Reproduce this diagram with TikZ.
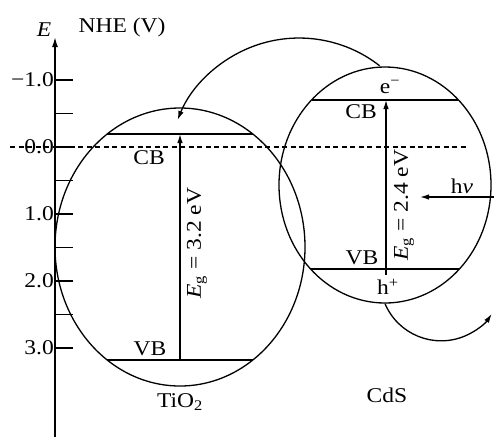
\documentclass[tikz,border=0pt]{standalone}
\usepackage{fontspec}
\setmainfont{Liberation Serif}[FakeStretch=1.12]
\usetikzlibrary{arrows.meta,positioning,shapes.geometric}
\tikzset{
  arr/.style={-{Latex[length=9pt,width=5.5pt]},line width=1.3pt},
  axisline/.style={-{Latex[length=10pt,width=6pt]},line width=1.5pt},
  bandell/.style={draw,ellipse,line width=1.3pt,inner sep=0pt},
  bandline/.style={line width=1.3pt},
  lbl/.style={inner sep=1pt,font=\fontsize{21}{25}\selectfont}
}
\begin{document}
\begin{tikzpicture}[x=1pt,y=-1pt]
  \useasboundingbox (0,0) rectangle (494,437);
  \draw[axisline] (55,437) coordinate (axbot) -- (55,37) coordinate (axtop);
  \foreach \v in {-1,-0.5,0,0.5,1,1.5,2,2.5,3} \draw[line width=1.5pt] (55,{147+67*(\v)}) -- (73,{147+67*(\v)});
  \foreach \v/\t in {-1/−1.0,0/0.0,1/1.0,2/2.0,3/3.0} \node[lbl,anchor=east] (tick\v) at (55,{147+67*(\v)}) {\t};
  \node[lbl] (elab) at (44,30) {\textit{E}};
  \node[lbl] (nhe) at (122,27) {NHE (V)};
  \draw[dash pattern=on 5pt off 3.5pt,line width=1.2pt] (10,147) coordinate (zl) -- (467,147) coordinate (zr);
  \node[bandell,minimum width=250pt,minimum height=278pt] (tio2) at (180,247) {};
  \node[bandell,minimum width=212pt,minimum height=236pt] (cds) at (385,185) {};
  \draw[bandline] (107.2,134) -- (252.8,134);\draw[bandline] (107.2,360) -- (252.8,360);
  \draw[bandline] (312.2,100) -- (457.8,100);\draw[bandline] (311.3,269) -- (458.7,269);
  \coordinate (tcb) at (180,134);\coordinate (tvb) at (180,360);
  \coordinate (ccb) at (386,100);\coordinate (cvb) at (386,275);
  \draw[arr] (tvb) -- (tcb);\draw[arr] (cvb) -- (ccb);
  \node[lbl,rotate=90] (egt) at (197,243) {\textit{E}\textsubscript{g} = 3.2 eV};
  \node[lbl,rotate=90] (egc) at (404,205) {\textit{E}\textsubscript{g} = 2.4 eV};
  \node[lbl] (tcblbl) at (149,158) {CB};
  \node[lbl] (tvblbl) at (150,349) {VB};
  \node[lbl,below=6pt of tio2] (tio2lbl) {TiO\textsubscript{2}};
  \node[lbl] (ccblbl) at (361,112) {CB};
  \node[lbl] (elbl) at (390,87) {e\textsuperscript{−}};
  \node[lbl] (cvblbl) at (362,258) {VB};
  \node[lbl] (hlbl) at (388,287) {h\textsuperscript{+}};
  \node[lbl] (cdslbl) at (387,395) {CdS};
  \coordinate (eout) at (379.7,65.8);
  \draw[arr] (eout) arc[start angle=52,end angle=158,radius=131pt];
  \draw[arr] (cds.south) arc[start angle=203,end angle=326,radius=61pt];
  \coordinate (hvsrc) at (494,197);\coordinate (hvtip) at (420,197);
  \draw[arr] (hvsrc) -- (hvtip);
  \node[lbl] (hv) at (462,186) {h\textit{ν}};
\end{tikzpicture}
\end{document}
